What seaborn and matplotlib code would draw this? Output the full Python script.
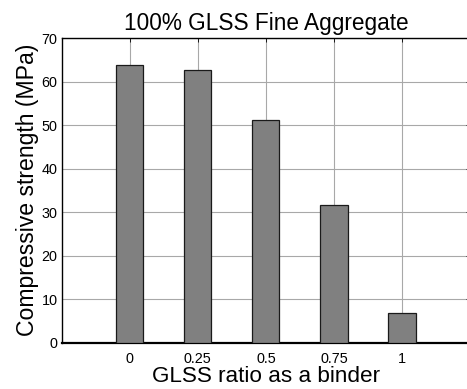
import matplotlib
matplotlib.use("Agg")
import matplotlib.pyplot as plt
import seaborn as sns
import pandas as pd

categories = ["0", "0.25", "0.5", "0.75", "1"]
strength = [63.9, 62.6, 51.1, 31.5, 6.7]
yticks = [0, 10, 20, 30, 40, 50, 60, 70]

sns.set_style("white")
plt.rcParams["font.family"] = ["Liberation Sans", "DejaVu Sans"]
plt.rcParams["text.color"] = "black"
plt.rcParams["axes.labelcolor"] = "black"

df = pd.DataFrame({"ratio": categories, "strength": strength})

fig = plt.figure(figsize=(4.67, 3.89), dpi=100)
ax = fig.add_axes([0.1321, 0.1195, 0.8745, 0.7828])

sns.barplot(data=df, x="ratio", y="strength", order=categories, ax=ax,
            color="#808080", saturation=1, width=0.4,
            edgecolor="#1a1a1a", linewidth=0.9, zorder=3)

ax.set_xlim(-1, 5)
ax.set_ylim(0, 70)
ax.set_yticks(yticks)
ax.grid(True, color="#a8a8a8", linewidth=0.8, zorder=0)
ax.set_axisbelow(True)
for s in ax.spines.values():
    s.set_color("black")
    s.set_linewidth(1.0)
ax.spines["bottom"].set_linewidth(1.6)
ax.tick_params(direction="in", length=3, width=0.6, labelsize=10.4,
               top=True, right=True, colors="black")
ax.tick_params(axis="x", pad=7)
ax.tick_params(axis="y", pad=3)

ax.set_title("100% GLSS Fine Aggregate", fontsize=16.3, pad=6, color="black")
ax.set_xlabel("GLSS ratio as a binder", fontsize=16.2, labelpad=0, color="black")
ax.set_ylabel("Compressive strength (MPa)", fontsize=16.6, labelpad=2, color="black")

fig.savefig("out.png", dpi=100)
